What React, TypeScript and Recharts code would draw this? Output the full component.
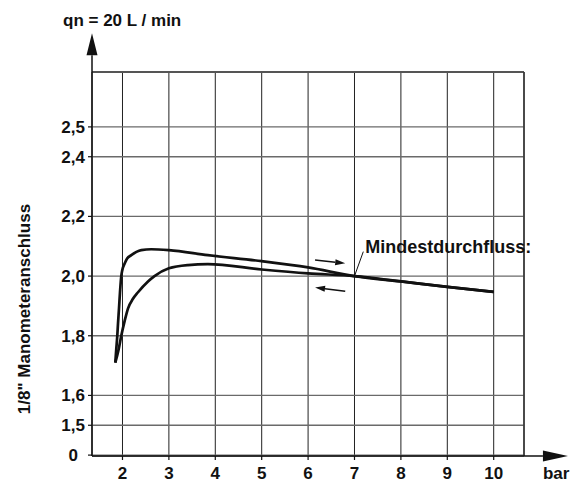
import React from 'react';
import {
  LineChart,
  Line,
  XAxis,
  YAxis,
  CartesianGrid,
  ReferenceLine,
  Label
} from 'recharts';

const FONT = '"Liberation Sans", Arial, Helvetica, sans-serif';
const INK = '#111111';

// axis ticks
const xTicks = [2, 3, 4, 5, 6, 7, 8, 9, 10];
const yTicks = [1.4, 1.5, 1.6, 1.8, 2.0, 2.2, 2.4, 2.5];
const yTickLabels = ['0', '1,5', '1,6', '1,8', '2,0', '2,2', '2,4', '2,5'];

// visible range (broken y axis: "0" sits where 1,4 would be)
const X_MIN = 1.343;
const X_MAX = 10.653;
const Y_MIN = 1.397;
const Y_MAX = 2.684;
const X_TIP = 11.6;
const Y_TIP = 2.814;

// rising pressure (upper branch)
const upX = [1.845, 1.866, 1.888, 1.903, 1.925, 1.946, 1.974, 1.996, 2.047, 2.1, 2.19, 2.3, 2.405, 2.62, 3.0, 3.84, 5.0, 6.0, 7.0, 8.0, 9.0, 10.0];
const upY = [1.71, 1.755, 1.8, 1.84, 1.892, 1.945, 2.0, 2.02, 2.042, 2.059, 2.07, 2.081, 2.087, 2.09, 2.087, 2.07, 2.05, 2.029, 2.0, 1.982, 1.964, 1.947];

// falling pressure (lower branch)
const downX = [1.845, 1.918, 1.974, 2.047, 2.12, 2.226, 2.33, 2.55, 2.69, 3.0, 3.41, 3.84, 5.0, 6.0, 7.0, 8.0, 9.0, 10.0];
const downY = [1.71, 1.755, 1.8, 1.85, 1.892, 1.924, 1.945, 1.982, 2.0, 2.026, 2.037, 2.04, 2.022, 2.009, 2.0, 1.982, 1.964, 1.947];

// direction arrows next to the curves
const arrowRight = [{ x: 6.15, y: 2.054 }, { x: 6.8, y: 2.043 }];
const arrowLeft = [{ x: 6.8, y: 1.949 }, { x: 6.15, y: 1.962 }];
const pointer = [{ x: 7.0, y: 2.0 }, { x: 7.19, y: 2.082 }];

const upData = upX.map((x, i) => ({ x, y: upY[i] }));
const downData = downX.map((x, i) => ({ x, y: downY[i] }));

const textStyle = {
  fontFamily: FONT,
  fontWeight: 700,
  fontSize: 17,
  fill: INK
};

const makeArrow = (len: number, half: number, width: number) => (props: any) => {
  const { x1, y1, x2, y2 } = props;
  const a = Math.atan2(y2 - y1, x2 - x1);
  const bx = x2 - len * Math.cos(a);
  const by = y2 - len * Math.sin(a);
  const px = -Math.sin(a) * half;
  const py = Math.cos(a) * half;
  return (
    <g>
      <line x1={x1} y1={y1} x2={bx} y2={by} stroke={INK} strokeWidth={width} />
      <polygon points={`${x2},${y2} ${bx + px},${by + py} ${bx - px},${by - py}`} fill={INK} />
    </g>
  );
};

const smallArrow = makeArrow(10, 3, 1.5);

const yAxisArrow = (props: any) => {
  const { x2, y2 } = props;
  return (
    <g>
      {makeArrow(22, 5.5, 1.5)(props)}
      <text x={x2 - 29} y={y2 - 7} style={textStyle}>qn = 20 L / min</text>
    </g>
  );
};

const xAxisArrow = (props: any) => {
  const { x2, y2 } = props;
  return (
    <g>
      {makeArrow(25, 5.5, 1.5)(props)}
      <text x={x2 - 25} y={y2 + 23} style={textStyle}>bar</text>
    </g>
  );
};

const pointerShape = (props: any) => {
  const { x1, y1, x2, y2 } = props;
  return (
    <g>
      <line x1={x1} y1={y1} x2={x2} y2={y2} stroke={INK} strokeWidth={1} />
      <text x={x2 + 2} y={y2 + 1} style={{ ...textStyle, fontSize: 18 }}>Mindestdurchfluss:</text>
    </g>
  );
};

const YTick = (props: any) => {
  const { x, y, payload } = props;
  const i = yTicks.indexOf(payload.value);
  const shift = payload.value === yTicks[0] ? 7 : 0;
  return (
    <text x={x - shift} y={y} dy={6} textAnchor="end" style={textStyle}>
      {yTickLabels[i]}
    </text>
  );
};

const XTick = (props: any) => {
  const { x, y, payload } = props;
  return (
    <text x={x} y={y} dy={10} textAnchor="middle" style={textStyle}>
      {payload.value}
    </text>
  );
};

export default function App() {
  return (
    <div style={{ position: 'absolute', left: 0, top: 0, background: '#fff' }}>
      <LineChart
        width={575}
        height={483}
        margin={{ top: 72, right: 51, bottom: 7, left: 62 }}
      >
        <CartesianGrid horizontal={false} stroke="#222" strokeWidth={1} />
        <CartesianGrid vertical={false} stroke="#6a6a6a" strokeWidth={1.3} />
        <XAxis
          dataKey="x"
          type="number"
          domain={[X_MIN, X_MAX]}
          allowDataOverflow
          ticks={xTicks}
          interval={0}
          height={20}
          tickSize={4}
          tickMargin={9}
          tick={<XTick />}
          tickLine={{ stroke: INK, strokeWidth: 1.2 }}
          axisLine={{ stroke: INK, strokeWidth: 1.5 }}
        />
        <YAxis
          type="number"
          domain={[Y_MIN, Y_MAX]}
          allowDataOverflow
          ticks={yTicks}
          interval={0}
          width={30}
          tickSize={4}
          tickMargin={3}
          tick={<YTick />}
          tickLine={{ stroke: INK, strokeWidth: 1.2 }}
          axisLine={{ stroke: INK, strokeWidth: 1.5 }}
        >
          <Label
            value={'1/8" Manometeranschluss'}
            angle={-90}
            position="center"
            dx={-53}
            dy={45}
            style={textStyle}
          />
        </YAxis>
        <ReferenceLine y={Y_MAX} stroke="#555" strokeWidth={2.2} />
        <ReferenceLine x={X_MAX} stroke="#333" strokeWidth={1.5} />
        <ReferenceLine
          segment={[{ x: X_MIN, y: Y_MAX }, { x: X_MIN, y: Y_TIP }]}
          ifOverflow="visible"
          shape={yAxisArrow}
        />
        <ReferenceLine
          segment={[{ x: X_MAX, y: Y_MIN }, { x: X_TIP, y: Y_MIN }]}
          ifOverflow="visible"
          shape={xAxisArrow}
        />
        <ReferenceLine segment={arrowRight} ifOverflow="visible" shape={smallArrow} />
        <ReferenceLine segment={arrowLeft} ifOverflow="visible" shape={smallArrow} />
        <ReferenceLine segment={pointer} ifOverflow="visible" shape={pointerShape} />
        <Line
          data={upData}
          dataKey="y"
          type="monotone"
          dot={false}
          stroke={INK}
          strokeWidth={2.7}
          isAnimationActive={false}
        />
        <Line
          data={downData}
          dataKey="y"
          type="monotone"
          dot={false}
          stroke={INK}
          strokeWidth={2.7}
          isAnimationActive={false}
        />
      </LineChart>
    </div>
  );
}
